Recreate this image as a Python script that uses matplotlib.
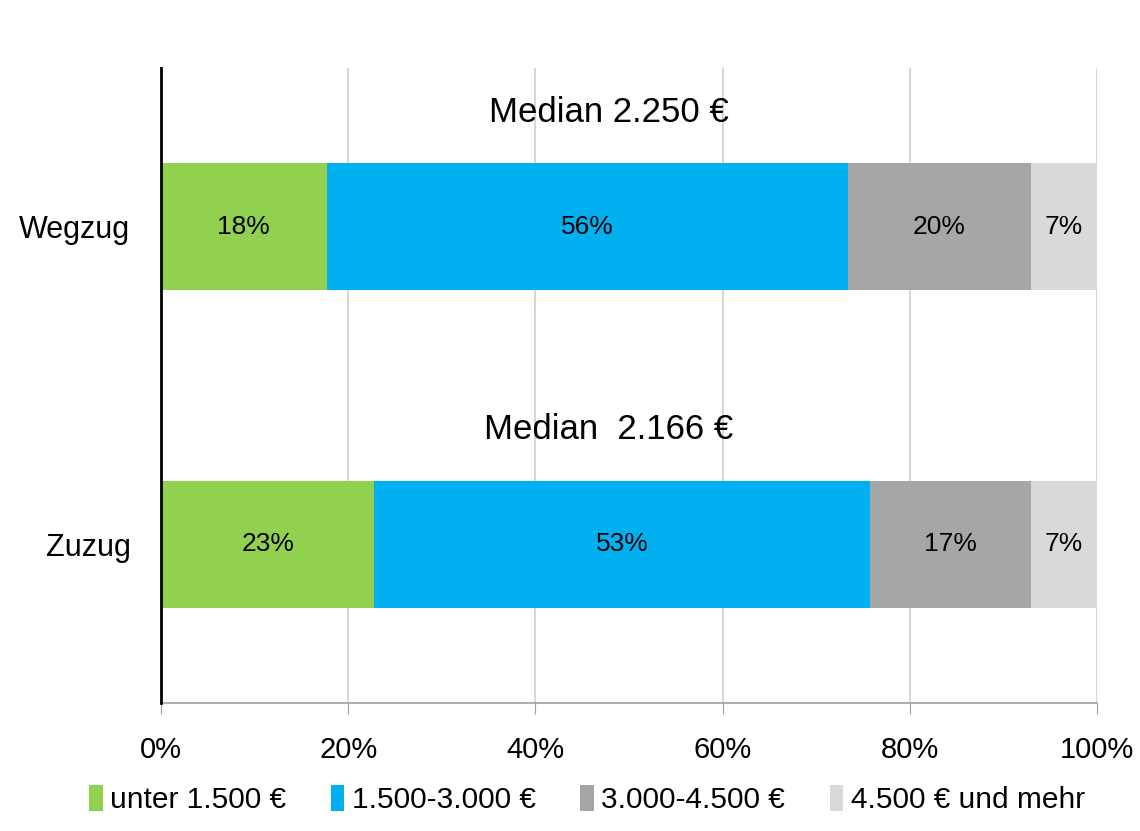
import matplotlib
matplotlib.use("Agg")
import matplotlib.pyplot as plt
from matplotlib import font_manager

fams = [f.name for f in font_manager.fontManager.ttflist]
FONT = "Liberation Sans Narrow" if "Liberation Sans Narrow" in fams else "Liberation Sans"
plt.rcParams['font.family'] = [FONT, 'DejaVu Sans']

categories = ["Wegzug", "Zuzug"]
series_names = ["unter 1.500 €", "1.500-3.000 €", "3.000-4.500 €", "4.500 € und mehr"]
values = {
    "unter 1.500 €":    [17.7, 22.8],
    "1.500-3.000 €":    [55.7, 52.9],
    "3.000-4.500 €":    [19.5, 17.2],
    "4.500 € und mehr": [7.1, 7.2],
}
labels = {
    "unter 1.500 €":    ["18%", "23%"],
    "1.500-3.000 €":    ["56%", "53%"],
    "3.000-4.500 €":    ["20%", "17%"],
    "4.500 € und mehr": ["7%", "7%"],
}
medians = ["Median 2.250 €", "Median  2.166 €"]
xticks = [0, 20, 40, 60, 80, 100]
xtick_labels = ["0%", "20%", "40%", "60%", "80%", "100%"]
colors = ["#92D050", "#00B0F0", "#A6A6A6", "#D9D9D9"]

fig = plt.figure(figsize=(11.4, 8.31), dpi=100)
ax = fig.add_axes([161/1140, 1-703/831, (1097-161)/1140, (703-68)/831])

ypos = list(range(len(categories)))
left = [0.0]*len(categories)
for name, c in zip(series_names, colors):
    vals = values[name]
    ax.barh(ypos, vals, left=left, height=0.4, color=c, label=name, zorder=3)
    for i, (v, l) in enumerate(zip(vals, left)):
        ax.text(l + v/2, ypos[i], labels[name][i], ha="center", va="center",
                fontsize=19, zorder=4)
    left = [a + b for a, b in zip(left, vals)]

for i, m in enumerate(medians):
    ax.text(47.8, ypos[i] - 0.36, m, ha="center", va="center", fontsize=25)

ax.set_xlim(0, 100)
ax.set_ylim(1.5, -0.5)
ax.set_xticks(xticks)
ax.set_xticklabels(xtick_labels, fontsize=21)
ax.set_yticks(ypos)
ax.set_yticklabels(categories, fontsize=22)
ax.tick_params(axis="y", length=0, pad=22)
ax.tick_params(axis="x", length=8, color="#A0A0A0", pad=16)
ax.grid(axis="x", color="#D0D0D0", linewidth=1.2, zorder=0)
for s in ["top", "right"]:
    ax.spines[s].set_visible(False)
ax.spines["left"].set_color("black")
ax.spines["left"].set_linewidth(2)
ax.spines["left"].set_zorder(5)
ax.spines["bottom"].set_color("#A0A0A0")
ax.spines["bottom"].set_linewidth(1.2)

fig.legend(loc="lower center", bbox_to_anchor=(0.515, -0.012), ncol=4, frameon=False,
           fontsize=21.5, handlelength=0.45, handleheight=1.0, handletextpad=0.25,
           columnspacing=1.5)

fig.savefig("out.png", dpi=100)
